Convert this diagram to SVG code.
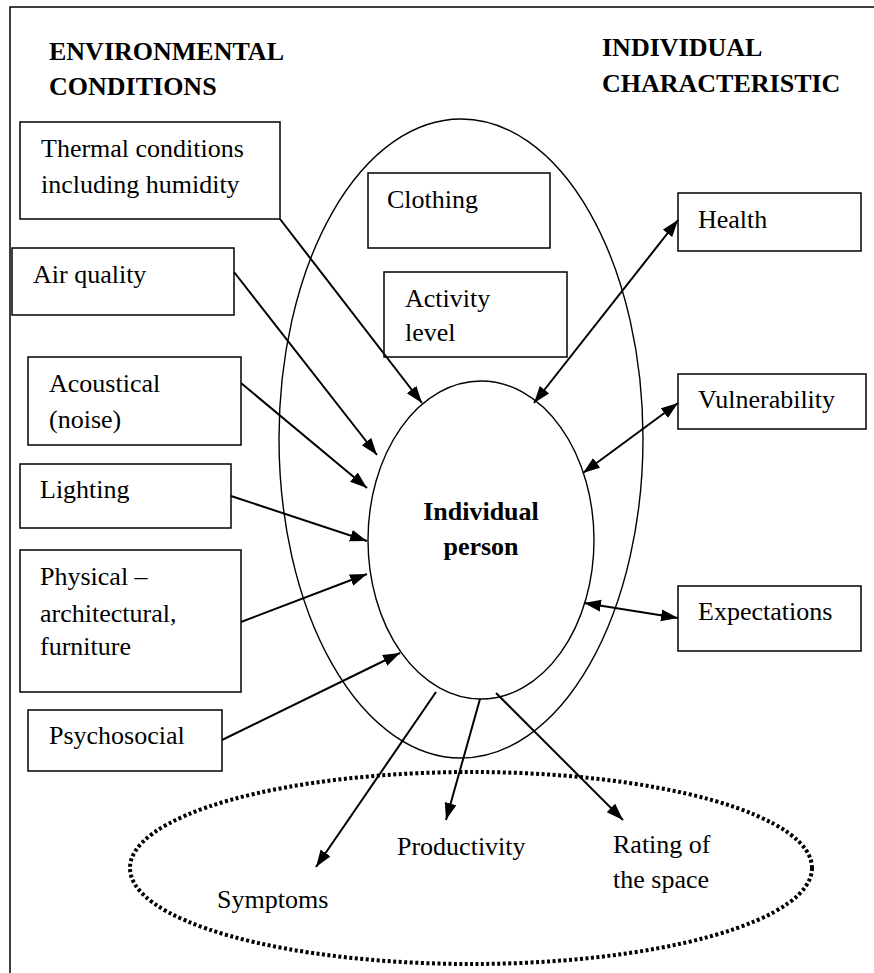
<svg xmlns="http://www.w3.org/2000/svg" width="874" height="973" viewBox="0 0 874 973">
<defs>
<style>
text{font-size:26px;fill:#000}
.h{font-weight:bold}
.box{fill:#fff;stroke:#000;stroke-width:1.5}
.ell{fill:none;stroke:#000;stroke-width:1.4}
.ar{fill:none;stroke:#000;stroke-width:2;marker-end:url(#ah)}
.dar{fill:none;stroke:#000;stroke-width:2;marker-end:url(#ah);marker-start:url(#ah)}
</style>
<marker id="ah" markerUnits="userSpaceOnUse" markerWidth="18" markerHeight="14" refX="17" refY="6" orient="auto-start-reverse">
<path d="M0,0 L17,6 L0,12 z" fill="#000"/>
</marker>
</defs>
<rect width="874" height="973" fill="#fff"/>
<path d="M10,973 V7 H874" fill="none" stroke="#000" stroke-width="1.5"/>
<g font-family="Liberation Serif, DejaVu Serif, Noto Serif, serif">
<g id="heading-env"><text class="h" x="49" y="60">ENVIRONMENTAL</text><text class="h" x="49" y="95">CONDITIONS</text></g>
<g id="heading-ind"><text class="h" x="602" y="56">INDIVIDUAL</text><text class="h" x="602" y="92">CHARACTERISTIC</text></g>
<g id="outer-ellipse"><ellipse class="ell" cx="461" cy="438.5" rx="182" ry="319.5"/></g>
<g id="thermal"><rect class="box" x="20" y="122" width="260" height="97"/><text x="41" y="157">Thermal conditions</text><text x="41" y="193">including humidity</text></g>
<g id="clothing"><rect class="box" x="368" y="173" width="182" height="75"/><text x="387" y="208">Clothing</text></g>
<g id="activity"><rect class="box" x="384" y="272" width="183" height="85"/><text x="405" y="307">Activity</text><text x="405" y="341">level</text></g>
<g id="health"><rect class="box" x="678" y="193" width="183" height="58"/><text x="698" y="228">Health</text></g>
<g id="air"><rect class="box" x="12" y="248" width="222" height="67"/><text x="33" y="283">Air quality</text></g>
<g id="acoustical"><rect class="box" x="28" y="357" width="213" height="88"/><text x="49" y="392">Acoustical</text><text x="49" y="428">(noise)</text></g>
<g id="lighting"><rect class="box" x="20" y="464" width="211" height="64"/><text x="40" y="498">Lighting</text></g>
<g id="physical"><rect class="box" x="20" y="550" width="221" height="142"/><text x="40" y="585">Physical –</text><text x="40" y="622">architectural,</text><text x="40" y="655">furniture</text></g>
<g id="psychosocial"><rect class="box" x="28" y="710" width="194" height="61"/><text x="49" y="744">Psychosocial</text></g>
<g id="vulnerability"><rect class="box" x="678" y="374" width="188" height="55"/><text x="698" y="408">Vulnerability</text></g>
<g id="expectations"><rect class="box" x="678" y="586" width="183" height="65"/><text x="698" y="620">Expectations</text></g>
<g id="person"><ellipse class="ell" cx="481" cy="540" rx="113" ry="159"/><text class="h" x="481" y="520" text-anchor="middle">Individual</text><text class="h" x="481" y="555" text-anchor="middle">person</text></g>
<g id="outcomes"><ellipse cx="471" cy="868" rx="341" ry="96" fill="none" stroke="#000" stroke-width="4" stroke-dasharray="3 2.5"/>
<text x="217" y="908">Symptoms</text><text x="397" y="855">Productivity</text><text x="613" y="853">Rating of</text><text x="613" y="888">the space</text></g>
</g>
<g id="connectors">
<line class="ar" x1="280" y1="219" x2="422" y2="403"/>
<line class="ar" x1="234" y1="272" x2="377" y2="455"/>
<line class="ar" x1="241" y1="383" x2="367" y2="488"/>
<line class="ar" x1="231" y1="496" x2="367" y2="541"/>
<line class="ar" x1="241" y1="622" x2="367" y2="574"/>
<line class="ar" x1="222" y1="740" x2="400" y2="653"/>
<line class="dar" x1="534" y1="403" x2="678" y2="220"/>
<line class="dar" x1="583" y1="473" x2="678" y2="403"/>
<line class="dar" x1="584" y1="603" x2="678" y2="618"/>
<line class="ar" x1="436" y1="692" x2="316" y2="867"/>
<line class="ar" x1="480" y1="699" x2="446" y2="820"/>
<line class="ar" x1="496" y1="693" x2="623" y2="820"/>
</g>
</svg>
